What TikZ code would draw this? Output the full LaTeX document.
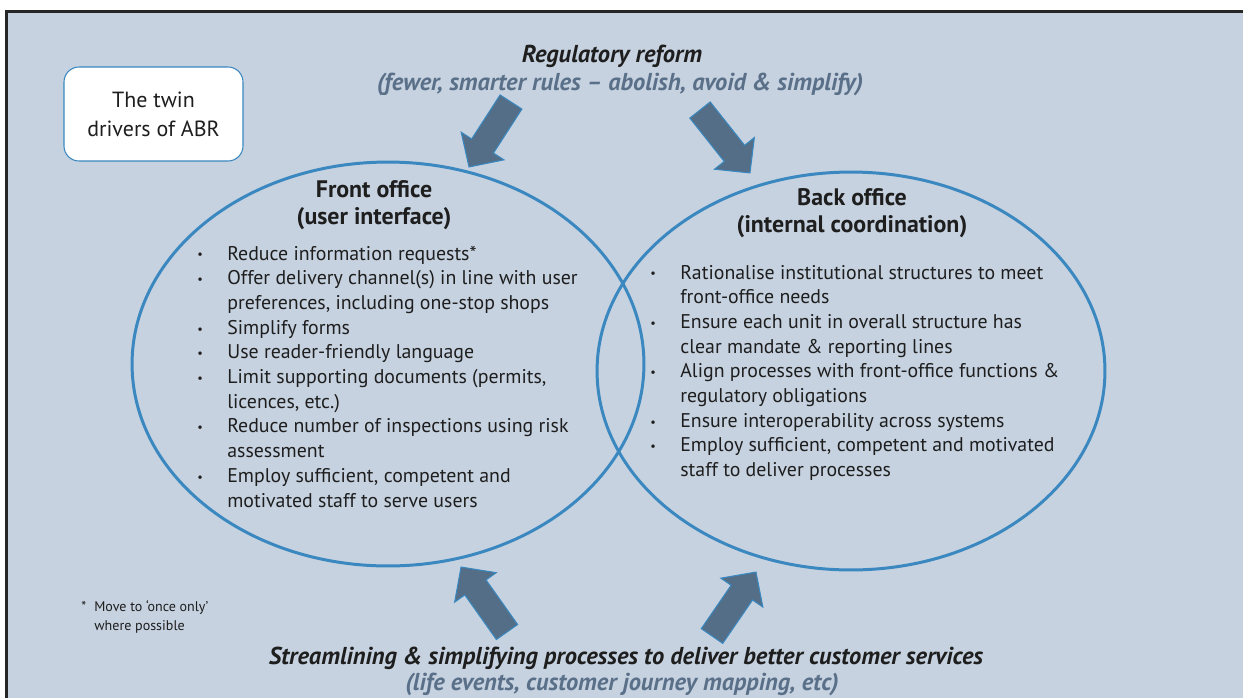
\documentclass[tikz,border=0pt]{standalone}
\usepackage{fontspec}
\setmainfont{PT Sans}
\usetikzlibrary{shapes.geometric}

\definecolor{panel}{HTML}{C6D2E0}
\definecolor{ringblue}{HTML}{3A88BF}
\definecolor{arrowgray}{HTML}{536E86}
\definecolor{subgray}{HTML}{5A7089}
\definecolor{ink}{HTML}{1E1E1E}

\tikzset{
  ring/.style={draw=ringblue, line width=1.7pt, ellipse, inner sep=0pt},
  fat/.style={fill=arrowgray, draw=ringblue, line width=0.6pt},
  headtext/.style={font=\fontsize{13.6}{15.8}\selectfont\bfseries, text=ink, inner sep=0pt, anchor=base},
  listtext/.style={font=\fontsize{11.3}{14.06}\selectfont, text=ink, inner sep=0pt, anchor=base west},
  driverbox/.style={draw=ringblue, line width=0.6pt, fill=white, rounded corners=0.3cm,
    minimum width=3.58cm, minimum height=1.88cm, align=center, text=ink,
    font=\fontsize{12.5}{16.4}\selectfont},
  bigline/.style={font=\fontsize{13.9}{15}\selectfont\bfseries\itshape, inner sep=0pt, anchor=base}
}

\newcommand{\bul}{\raisebox{0.6pt}{\scriptsize\textbullet}}

% broad arrow from one named point to another
\newcommand{\fatarrow}[2]{%
  \pgfpointdiff{\pgfpointanchor{#1}{center}}{\pgfpointanchor{#2}{center}}%
  \pgfgetlastxy{\arrdx}{\arrdy}%
  \pgfmathsetmacro{\arrlen}{veclen(\arrdx,\arrdy)}%
  \pgfmathsetmacro{\arrang}{atan2(\arrdy,\arrdx)}%
  \begin{scope}[shift={(#1)}, rotate=\arrang]
    \draw[fat] (0pt,-7.4pt) -- ({\arrlen pt-14.2pt},-7.4pt) -- ({\arrlen pt-14.2pt},-14.5pt)
      -- (\arrlen pt,0pt) -- ({\arrlen pt-14.2pt},14.5pt) -- ({\arrlen pt-14.2pt},7.4pt)
      -- (0pt,7.4pt) -- cycle;
  \end{scope}}

\begin{document}
\begin{tikzpicture}[x=0.02cm, y=-0.02cm]
  \useasboundingbox (0,0) rectangle (1243,697);
  \clip (0,0) rectangle (1243,697);

  % panel
  \draw[fill=panel, draw=black!85, line width=1.2pt] (6.5,11.5) rectangle (1270,720);

  % the two offices
  \node[ring, minimum width=10.24cm, minimum height=8.08cm] (front) at (388,364) {};
  \node[ring, minimum width=10.16cm, minimum height=7.96cm] (back) at (851,371) {};

  \node[driverbox] (drivers) at (153.5,114) {The twin\\drivers of ABR};

  % top and bottom drivers
  \node[bigline, text=ink] (reform) at (612,62) {Regulatory reform};
  \node[bigline, text=subgray] (reformsub) at (620,90)
    {(fewer, smarter rules -- abolish, avoid \& simplify)};
  \node[bigline, text=ink] (stream) at (626,664)
    {Streamlining \& simplifying processes to deliver better customer services};
  \node[bigline, text=subgray] (streamsub) at (622,690)
    {(life events, customer journey mapping, etc)};

  \coordinate (reftailL) at (511,102);  \coordinate (reftipL) at (469,167);
  \coordinate (reftailR) at (700,110);  \coordinate (reftipR) at (750,173);
  \coordinate (strtailL) at (507,632);  \coordinate (strtipL) at (461,567);
  \coordinate (strtailR) at (712,636);  \coordinate (strtipR) at (756,572);
  \fatarrow{reftailL}{reftipL}
  \fatarrow{reftailR}{reftipR}
  \fatarrow{strtailL}{strtipL}
  \fatarrow{strtailR}{strtipR}

  % front office
  \node[headtext] (fronthead) at (374,197)
    {\begin{tabular}[t]{@{}c@{}}Front office\\(user interface)\end{tabular}};
  \node[listtext] (frontlist) at (197,260) {\begin{tabular}[t]{@{}p{0.6cm}@{}l@{}}
    \bul & Reduce information requests*\\
    \bul & Offer delivery channel(s) in line with user\\
         & preferences, including one-stop shops\\
    \bul & Simplify forms\\
    \bul & Use reader-friendly language\\
    \bul & Limit supporting documents (permits,\\
         & licences, etc.)\\
    \bul & Reduce number of inspections using risk\\
         & assessment\\
    \bul & Employ sufficient, competent and\\
         & motivated staff to serve users
  \end{tabular}};

  % back office
  \node[headtext] (backhead) at (852,205)
    {\begin{tabular}[t]{@{}c@{}}Back office\\(internal coordination)\end{tabular}};
  \node[listtext] (backlist) at (650,279) {\begin{tabular}[t]{@{}p{0.6cm}@{}l@{}}
    \bul & Rationalise institutional structures to meet\\
         & front-office needs\\
    \bul & Ensure each unit in overall structure has\\
         & clear mandate \& reporting lines\\
    \bul & Align processes with front-office functions \&\\
         & regulatory obligations\\
    \bul & Ensure interoperability across systems\\
    \bul & Employ sufficient, competent and motivated\\
         & staff to deliver processes
  \end{tabular}};

  % footnote
  \node[font=\fontsize{8}{11.3}\selectfont, text=ink, inner sep=0pt, anchor=base west] (note) at (81,611)
    {\begin{tabular}[t]{@{}p{0.26cm}@{}l@{}}
      * & Move to `once only'\\
        & where possible
    \end{tabular}};
\end{tikzpicture}
\end{document}
